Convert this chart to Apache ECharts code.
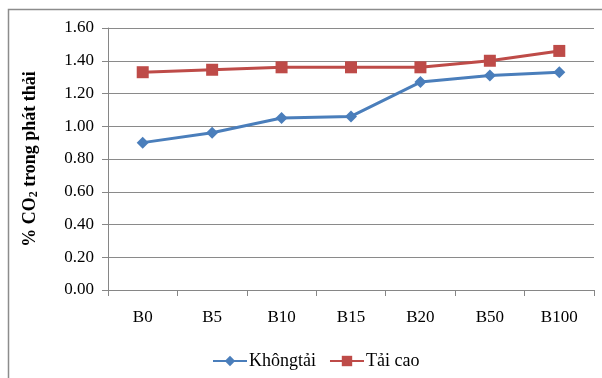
<!DOCTYPE html>
<html>
<head>
<meta charset="utf-8">
<script src="https://cdn.jsdelivr.net/npm/echarts@6/dist/echarts.min.js"></script>
<style>
  html, body { margin: 0; padding: 0; background: #fff; }
  #chart { width: 602px; height: 378px; }
</style>
</head>
<body>
<div id="chart"></div>
<script>
// Fuel blends (biodiesel share)
const categories = ['B0', 'B5', 'B10', 'B15', 'B20', 'B50', 'B100'];
// % CO2 in exhaust, idle load
const khongTai = [0.90, 0.96, 1.05, 1.06, 1.27, 1.31, 1.33];
// % CO2 in exhaust, high load
const taiCao = [1.33, 1.345, 1.36, 1.36, 1.36, 1.40, 1.46];
// Value axis ticks
const yTicks = [0, 0.2, 0.4, 0.6, 0.8, 1.0, 1.2, 1.4, 1.6];

const serif = 'Liberation Serif';
const chart = echarts.init(document.getElementById('chart'), null, { renderer: 'canvas' });

chart.setOption({
  animation: false,
  backgroundColor: '#fff',
  textStyle: { fontFamily: serif },
  graphic: [
    {
      type: 'rect',
      shape: { x: 8.5, y: 9.5, width: 700, height: 500 },
      style: { fill: 'none', stroke: '#8c8c8c', lineWidth: 1.5 },
      silent: true,
      z: -1
    }
  ],
  grid: { left: 108, right: 8, top: 28, bottom: 88, containLabel: false },
  legend: {
    bottom: 3,
    left: 207,
    itemWidth: 34,
    itemHeight: 13,
    itemGap: 13,
    formatter: name => '{t|' + name + '}',
    textStyle: {
      fontFamily: serif, fontSize: 18, color: '#000',
      rich: { t: { fontFamily: serif, fontSize: 18, color: '#000', padding: [0, 0, 0, -3] } }
    },
    data: ['Khôngtải', 'Tải cao']
  },
  xAxis: {
    type: 'category',
    data: categories,
    boundaryGap: true,
    axisLine: { lineStyle: { color: '#868686', width: 1 } },
    axisTick: { show: true, alignWithLabel: false, length: 6, lineStyle: { color: '#868686' } },
    axisLabel: { color: '#000', fontFamily: serif, fontSize: 17, margin: 19 },
    splitLine: { show: false }
  },
  yAxis: {
    type: 'value',
    min: yTicks[0],
    max: yTicks[yTicks.length - 1],
    interval: 0.2,
    name: '{b|% CO}{s|2}{b| trong phát thải}',
    nameLocation: 'middle',
    nameGap: 68,
    nameRotate: 90,
    nameTextStyle: {
      rich: {
        b: { fontFamily: serif, fontSize: 18, fontWeight: 'bold', color: '#000' },
        s: { fontFamily: serif, fontSize: 12, fontWeight: 'bold', color: '#000', verticalAlign: 'bottom', padding: [7, 0, 0, 0] }
      }
    },
    axisLine: { show: true, lineStyle: { color: '#868686', width: 1 } },
    axisTick: { show: true, length: 6, lineStyle: { color: '#868686' } },
    axisLabel: {
      color: '#000', fontFamily: serif, fontSize: 17, margin: 14,
      formatter: v => v.toFixed(2)
    },
    splitLine: { show: true, lineStyle: { color: '#8a8a8a', width: 1 } }
  },
  series: [
    {
      name: 'Khôngtải',
      type: 'line',
      data: khongTai,
      symbol: 'diamond',
      symbolSize: 12,
      color: '#4A7EBB',
      lineStyle: { width: 3, color: '#4A7EBB' },
      itemStyle: { color: '#4A7EBB' }
    },
    {
      name: 'Tải cao',
      type: 'line',
      data: taiCao,
      symbol: 'rect',
      symbolSize: 12,
      color: '#BE4B48',
      lineStyle: { width: 3, color: '#BE4B48' },
      itemStyle: { color: '#BE4B48' }
    }
  ]
});
</script>
</body>
</html>
